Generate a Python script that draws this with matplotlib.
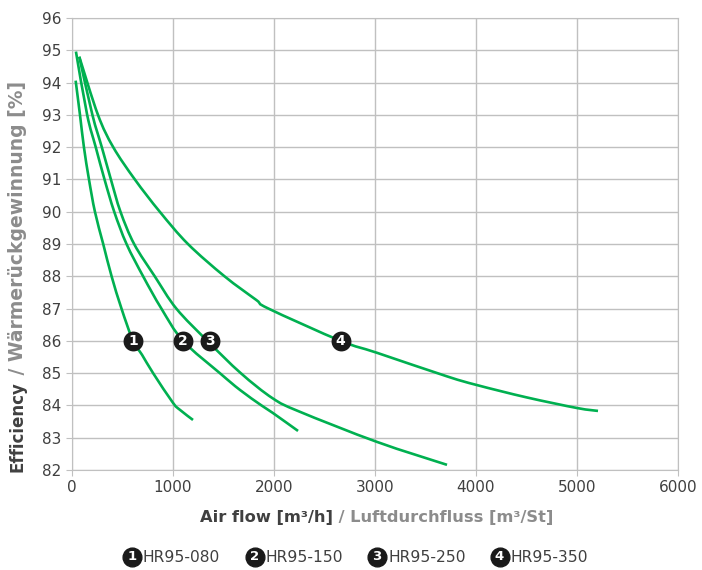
import matplotlib.pyplot as plt
from matplotlib.lines import Line2D
from matplotlib.path import Path
from matplotlib.patches import PathPatch

# values
names = ["HR95-080", "HR95-150", "HR95-250", "HR95-350"]

flow_080 = [36, 79, 118, 168, 227, 309, 392, 490, 604, 693, 803, 1000, 1070, 1198]
eff_080 = [94.06, 93.0, 92.0, 91.0, 90.0, 89.0, 88.0, 87.0, 86.0, 85.57, 85.0, 84.08, 83.86, 83.55]

flow_150 = [39, 150, 235, 322, 418, 540, 704, 885, 1099, 1464, 1663, 1876, 1987, 2238]
eff_150 = [94.96, 93.0, 92.0, 91.0, 90.0, 89.0, 88.0, 87.0, 86.0, 85.0, 84.48, 84.0, 83.77, 83.21]

flow_250 = [72, 202, 295, 385, 480, 615, 819, 1033, 1340, 1671, 1987, 2251, 3020, 3713]
eff_250 = [94.8, 93.0, 92.0, 91.0, 90.0, 89.0, 88.0, 87.0, 86.0, 85.0, 84.22, 83.81, 82.87, 82.16]

flow_350 = [72, 257, 408, 622, 869, 1148, 1510, 1823, 1945, 2660, 3020, 3713, 4010, 4500, 5000, 5208]
eff_350 = [94.8, 93.0, 92.0, 91.0, 90.0, 89.0, 88.0, 87.27, 87.0, 86.0, 85.63, 84.9, 84.63, 84.25, 83.92, 83.83]

badge_x = [604, 1099, 1366, 2660]
badge_y = 86

green = "#00B050"
grid_c = "#c0c0c0"
dark = "#404040"
grey = "#8c8c8c"
badge_c = "#1a1a1a"


def smooth_path(x, y):
    # excel style smoothed line: catmull-rom through the points as bezier segments
    pts = list(zip(x, y))
    n = len(pts)
    verts = [pts[0]]
    codes = [Path.MOVETO]
    for i in range(n - 1):
        p0 = pts[i - 1] if i > 0 else pts[i]
        p1 = pts[i]
        p2 = pts[i + 1]
        p3 = pts[i + 2] if i + 2 < n else pts[i + 1]
        c1 = (p1[0] + (p2[0] - p0[0]) / 6, p1[1] + (p2[1] - p0[1]) / 6)
        c2 = (p2[0] - (p3[0] - p1[0]) / 6, p2[1] - (p3[1] - p1[1]) / 6)
        verts += [c1, c2, p2]
        codes += [Path.CURVE4] * 3
    return Path(verts, codes)


fig = plt.figure(figsize=(7.02, 5.70), dpi=100)
ax = fig.add_axes([72 / 702, 1 - 470 / 570, 606 / 702, 452 / 570])

curves = [(flow_080, eff_080), (flow_150, eff_150), (flow_250, eff_250), (flow_350, eff_350)]
for x, y in curves:
    ax.add_patch(PathPatch(smooth_path(x, y), fill=False, edgecolor=green, lw=1.9,
                           capstyle="butt", zorder=3))

for i, bx in enumerate(badge_x):
    ax.scatter([bx], [badge_y], s=205, color=badge_c, zorder=5, linewidths=0)
    ax.text(bx, badge_y, str(i + 1), color="white", fontsize=10, fontweight="bold",
            ha="center", va="center", zorder=6)

ax.set_xlim(0, 6000)
ax.set_ylim(82, 96)
ax.set_xticks(range(0, 6001, 1000))
ax.set_yticks(range(82, 97))
ax.grid(True, color=grid_c, lw=1)
ax.set_axisbelow(True)
for s in ax.spines.values():
    s.set_color(grid_c)
ax.tick_params(colors=grid_c, labelcolor=dark, labelsize=11, length=4)

# two-tone axis titles
t1 = fig.text(200 / 702, 1 - 525 / 570, "Air flow [m³/h]", color=dark, fontsize=11.7,
              fontweight="bold", ha="left", va="bottom")
ax.annotate(" / Luftdurchfluss [m³/St]", xy=(1, 0), xycoords=t1, color=grey, fontsize=11.7,
            fontweight="bold", ha="left", va="bottom", annotation_clip=False)

t2 = fig.text(8 / 702, 1 - 472 / 570, "Efficiency", color=dark, fontsize=12,
              fontweight="bold", rotation=90, ha="left", va="bottom")
ax.annotate(" / Wärmerückgewinnung [%]", xy=(0, 1), xycoords=t2, color=grey, fontsize=13.5,
            fontweight="bold", rotation=90, ha="left", va="bottom", annotation_clip=False)

# legend with numbered badges
leg_y = 1 - 557 / 570
for i, name in enumerate(names):
    cx = (132 + 122.5 * i) / 702
    fig.add_artist(Line2D([cx], [leg_y], marker="o", ms=13.5, color=badge_c, ls="none",
                          transform=fig.transFigure))
    fig.text(cx, leg_y, str(i + 1), color="white", fontsize=9.5, fontweight="bold",
             ha="center", va="center")
    fig.text(cx + 11 / 702, leg_y, name, color=dark, fontsize=11.2, ha="left", va="center")

fig.savefig("out.png", dpi=100)
